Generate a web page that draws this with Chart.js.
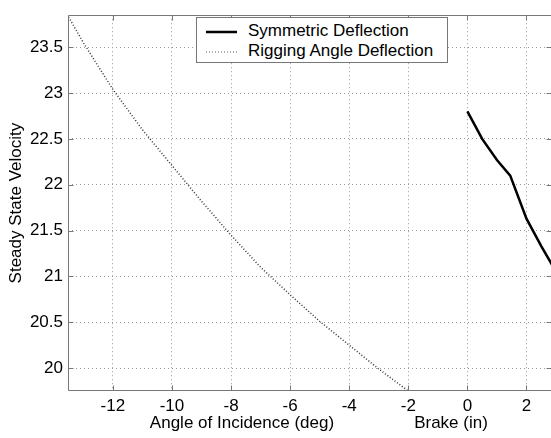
<!DOCTYPE html>
<html><head><meta charset="utf-8">
<script src="https://cdn.jsdelivr.net/npm/chart.js@4/dist/chart.umd.min.js"></script>
<style>
html,body{margin:0;padding:0;background:#fff;overflow:hidden;}
#wrap{position:relative;width:551px;height:438px;font-family:"Liberation Sans",Arial,Helvetica,sans-serif;color:#000;}
canvas{position:absolute;left:0;top:0;}
.xl{position:absolute;font-size:17px;transform:translate(-50%,-50%);white-space:nowrap;}
#legend{position:absolute;left:196px;top:17px;width:250px;height:44px;border:1px solid #777;background:#fff;}
.row{position:absolute;left:0;width:100%;height:20px;font-size:17px;line-height:20px;white-space:nowrap;}
.row svg{position:absolute;left:9px;top:9px;}
.row span{position:absolute;left:51px;top:0;}
</style></head>
<body><div id="wrap"><canvas id="c" width="551" height="438"></canvas>
<div id="legend"></div>
<div class="xl" style="left:242px;top:423px;">Angle of Incidence (deg)</div>
<div class="xl" style="left:451px;top:423px;">Brake (in)</div>
</div>
<script>
// Rigging angle deflection (angle of incidence, deg)
const angleX = [-13.5, -13, -12, -11, -10, -9, -8, -7, -6, -5, -4, -3, -2];
const angleV = [23.83, 23.55, 23.04, 22.60, 22.21, 21.82, 21.45, 21.10, 20.80, 20.51, 20.25, 19.99, 19.75];
// Symmetric deflection (brake, in)
const brakeX = [0, 0.5, 1.0, 1.45, 2.0, 2.5, 3.0];
const brakeV = [22.80, 22.50, 22.27, 22.10, 21.63, 21.33, 21.05];
// Tick labels
const xTickValues = [-12, -10, -8, -6, -4, -2, 0, 2];
const yTickValues = [20, 20.5, 21, 21.5, 22, 22.5, 23, 23.5];
const seriesLabels = ['Symmetric Deflection', 'Rigging Angle Deflection'];

const FONT = '"Liberation Sans", Arial, Helvetica, sans-serif';
const AXIS = '#777';

const framePlugin = {
  id: 'frame',
  afterDraw(chart) {
    const {ctx, chartArea: a, scales: {x, y}} = chart;
    const L = Math.round(a.left) + 0.5, R = Math.round(a.right) - 0.5;
    const T = Math.round(a.top) + 0.5, B = Math.round(a.bottom) - 0.5;
    ctx.save();
    ctx.setLineDash([]);
    ctx.strokeStyle = AXIS;
    ctx.lineWidth = 1;
    ctx.beginPath();
    ctx.moveTo(L, T); ctx.lineTo(R + 1, T);
    ctx.moveTo(L, T); ctx.lineTo(L, B);
    ctx.moveTo(L, B); ctx.lineTo(R + 1, B);
    const tl = 5;
    x.ticks.forEach(t => {
      const px = Math.round(x.getPixelForValue(t.value)) + 0.5;
      ctx.moveTo(px, B); ctx.lineTo(px, B - tl);
      ctx.moveTo(px, T); ctx.lineTo(px, T + tl);
    });
    y.ticks.forEach(t => {
      const py = Math.round(y.getPixelForValue(t.value)) + 0.5;
      ctx.moveTo(L, py); ctx.lineTo(L + tl, py);
      ctx.moveTo(R + 1, py); ctx.lineTo(R + 1 - tl, py);
    });
    ctx.stroke();
    ctx.restore();
  }
};

const chart = new Chart(document.getElementById('c'), {
  type: 'scatter',
  data: {
    datasets: [
      {
        label: seriesLabels[0],
        data: brakeX.map((v, i) => ({x: v, y: brakeV[i]})),
        showLine: true, borderColor: '#000', borderWidth: 2.5,
        pointRadius: 0, tension: 0, fill: false
      },
      {
        label: seriesLabels[1],
        data: angleX.map((v, i) => ({x: v, y: angleV[i]})),
        showLine: true, borderColor: '#333', borderWidth: 1.5, borderDash: [1, 2],
        pointRadius: 0, tension: 0, fill: false
      }
    ]
  },
  options: {
    responsive: false,
    animation: false,
    devicePixelRatio: 1,
    events: [],
    layout: {padding: {top: 9, right: 0, left: 0, bottom: 0}},
    plugins: {legend: {display: false}, tooltip: {enabled: false}},
    scales: {
      x: {
        type: 'linear', min: -13.52, max: 2.83,
        afterBuildTicks: s => { s.ticks = xTickValues.map(v => ({value: v})); },
        afterFit: s => { s.height = 47; },
        ticks: {callback: v => String(v), color: '#000', font: {family: FONT, size: 17}, padding: 5, maxRotation: 0, autoSkip: false},
        grid: {color: '#9a9a9a', drawTicks: false, lineWidth: 1},
        border: {display: false, dash: [1, 3]}
      },
      y: {
        type: 'linear', min: 19.75, max: 23.85,
        afterBuildTicks: s => { s.ticks = yTickValues.map(v => ({value: v})); },
        afterFit: s => { s.width = 68; },
        ticks: {callback: v => String(v), color: '#000', font: {family: FONT, size: 17}, padding: 5, autoSkip: false},
        grid: {color: '#9a9a9a', drawTicks: false, lineWidth: 1},
        border: {display: false, dash: [1, 3]},
        title: {display: true, text: 'Steady State Velocity', color: '#000', font: {family: FONT, size: 17}, padding: {top: 6, bottom: 0}}
      }
    }
  },
  plugins: [framePlugin]
});

// HTML legend built from dataset labels
const leg = document.getElementById('legend');
chart.data.datasets.forEach((ds, i) => {
  const row = document.createElement('div');
  row.className = 'row';
  row.style.top = (3 + i * 20) + 'px';
  const dash = ds.borderDash ? 'stroke-dasharray="1,2"' : '';
  const w = ds.borderDash ? 1 : 2.5;
  row.innerHTML = '<svg width="31" height="4"><line x1="0" y1="2" x2="31" y2="2" stroke="' + (ds.borderDash ? '#555' : '#000') + '" stroke-width="' + w + '" ' + dash + '/></svg><span></span>';
  row.querySelector('span').textContent = ds.label;
  leg.appendChild(row);
});
</script>
</body></html>
